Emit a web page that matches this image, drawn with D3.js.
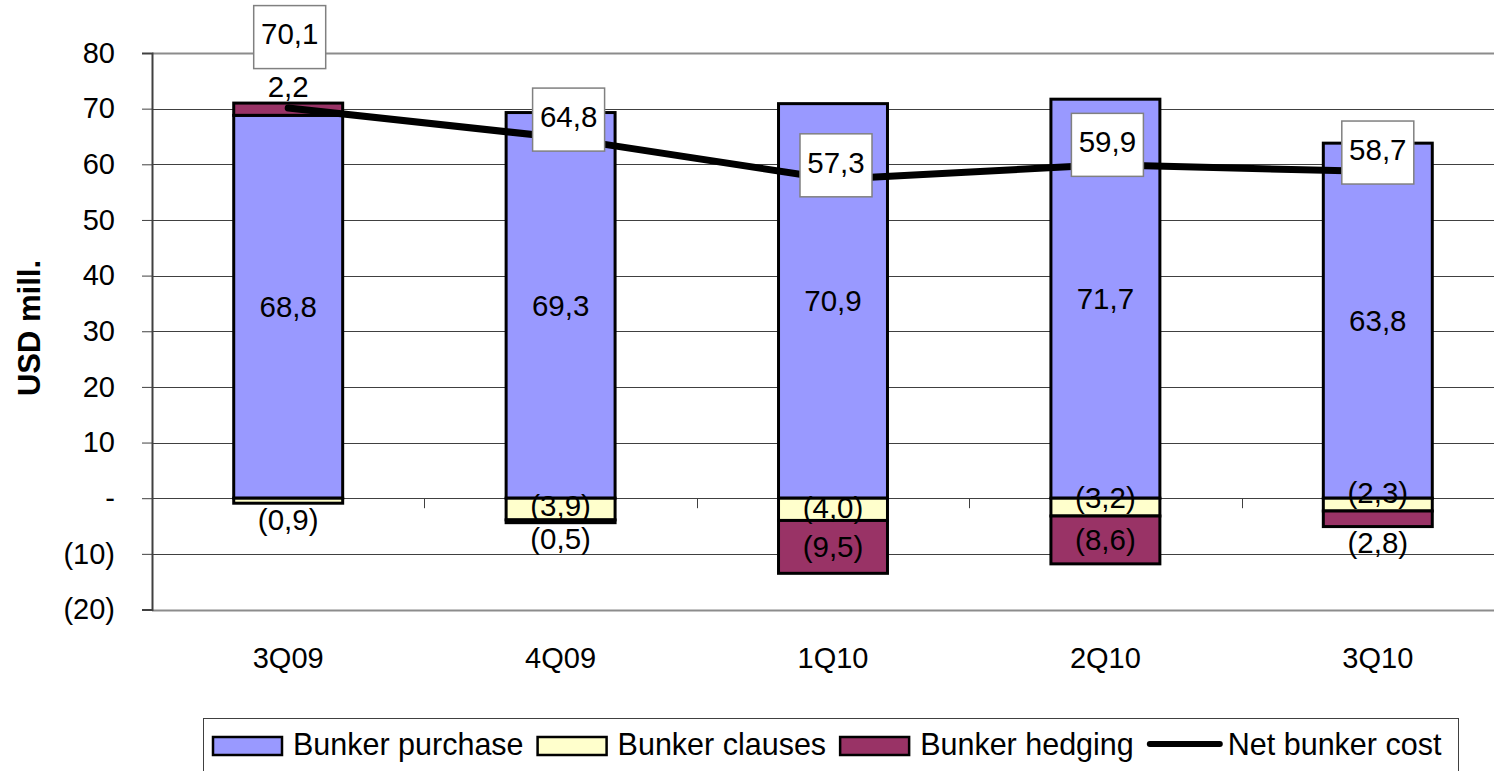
<!DOCTYPE html>
<html>
<head>
<meta charset="utf-8">
<script src="https://cdn.jsdelivr.net/npm/d3@7"></script>
<style>
  html, body { margin: 0; padding: 0; background: #fff; }
  svg { display: block; font-family: "Liberation Sans", Arial, sans-serif; }
</style>
</head>
<body>
<svg id="chart" width="1494" height="771"></svg>
<script>
// ---------------- DATA ----------------
const categories = ["3Q09", "4Q09", "1Q10", "2Q10", "3Q10"];
const bunkerPurchase = [68.8, 69.3, 70.9, 71.7, 63.8];
const bunkerClauses = [-0.9, -3.9, -4.0, -3.2, -2.3];
const bunkerHedging = [2.2, -0.5, -9.5, -8.6, -2.8];
const netBunkerCost = [70.1, 64.8, 57.3, 59.9, 58.7];
const yTickValues = [-20, -10, 0, 10, 20, 30, 40, 50, 60, 70, 80];
const seriesNames = ["Bunker purchase", "Bunker clauses", "Bunker hedging", "Net bunker cost"];
const yAxisTitle = "USD mill.";

// ---------------- STYLE / LAYOUT ----------------
const colors = { purchase: "#9999FF", clauses: "#FFFFCC", hedging: "#993366" };
const plot = { left: 152, right: 1514, top: 53, bottom: 609.5 };
// manual placement tweaks of the net-cost label boxes (px), like the original
const netLabelShift = [[1.5, -71], [8, -18], [3, -14], [2, -20], [0, -19]];
// manual vertical nudges of the clause labels (px)
const clauseLabelNudge = [0, -3, -2, -9, -12];
const labelFont = 29.5;

const fmt = v => {
  if (v === 0) return "-";
  const s = d3.format(".1f")(Math.abs(v)).replace(".", ",");
  return v < 0 ? "(" + s + ")" : s;
};
const fmtTick = v => {
  if (v === 0) return "-";
  return v < 0 ? "(" + Math.abs(v) + ")" : String(v);
};

const svg = d3.select("#chart");

const x = d3.scaleBand().domain(categories)
  .range([plot.left, plot.right]).paddingInner(0.6).paddingOuter(0.3);
const y = d3.scaleLinear().domain([-20, 80]).range([plot.bottom, plot.top]);

// gridlines
svg.append("g").selectAll("line").data(yTickValues).join("line")
  .attr("x1", plot.left).attr("x2", plot.right)
  .attr("y1", d => Math.round(y(d)) + 0.5).attr("y2", d => Math.round(y(d)) + 0.5)
  .attr("stroke", d => (d === 80 || d === -20) ? "#8c8c8c" : "#404040")
  .attr("stroke-width", d => (d === 80 || d === -20) ? 2 : 1);

// y axis
const yAxis = d3.axisLeft(y).tickValues(yTickValues).tickFormat(fmtTick).tickSize(10).tickPadding(27);
const gy = svg.append("g").attr("transform", `translate(${plot.left},0)`).call(yAxis);
gy.select(".domain").attr("stroke", "#404040").attr("stroke-width", 2);
gy.selectAll(".tick line").attr("stroke", "#404040");
gy.selectAll(".tick text").attr("font-size", 29).attr("fill", "#000")
  .attr("font-family", "Liberation Sans, Arial, sans-serif");

// x axis (tick marks at category boundaries on the zero line)
const step = x.step();
const bounds = categories.slice(0, -1).map(c => x(c) + x.bandwidth() + (step - x.bandwidth()) / 2);
svg.append("g").selectAll("line").data(bounds).join("line")
  .attr("x1", d => Math.round(d) + 0.5).attr("x2", d => Math.round(d) + 0.5)
  .attr("y1", y(0)).attr("y2", y(0) + 10)
  .attr("stroke", "#404040").attr("stroke-width", 1);

svg.append("g").selectAll("text").data(categories).join("text")
  .attr("x", d => x(d) + x.bandwidth() / 2)
  .attr("y", 668)
  .attr("text-anchor", "middle")
  .attr("font-size", 29)
  .text(d => d);

// y title
svg.append("text")
  .attr("transform", "translate(40,328) rotate(-90)")
  .attr("text-anchor", "middle")
  .attr("font-size", 31).attr("font-weight", "bold")
  .text(yAxisTitle);

// stacked bars
const rows = categories.map((c, i) => ({
  cat: c, purchase: bunkerPurchase[i], clauses: bunkerClauses[i], hedging: bunkerHedging[i]
}));
const keys = ["purchase", "clauses", "hedging"];
const stacked = d3.stack().keys(keys).offset(d3.stackOffsetDiverging)(rows);

const gBars = svg.append("g");
stacked.forEach(layer => {
  gBars.append("g").selectAll("rect").data(layer).join("rect")
    .attr("x", d => x(d.data.cat))
    .attr("width", x.bandwidth())
    .attr("y", d => y(Math.max(d[0], d[1])))
    .attr("height", d => Math.abs(y(d[0]) - y(d[1])))
    .attr("fill", colors[layer.key])
    .attr("stroke", "#000").attr("stroke-width", 3);
});

// segment labels
const gLab = svg.append("g");
stacked.forEach(layer => {
  layer.forEach((d, i) => {
    const v = d.data[layer.key];
    const lo = Math.min(d[0], d[1]), hi = Math.max(d[0], d[1]);
    const hPx = y(lo) - y(hi);
    const extremes = stacked.map(l => l[i]);
    const isOuter = v >= 0
      ? hi >= d3.max(extremes, e => Math.max(e[0], e[1]))
      : lo <= d3.min(extremes, e => Math.min(e[0], e[1]));
    let cy;
    if (hPx < 20 && isOuter) {
      cy = v >= 0 ? y(hi) - 16 : y(lo) + 16;
    } else {
      cy = (y(lo) + y(hi)) / 2;
    }
    if (layer.key === "clauses" && !(hPx < 20 && isOuter)) cy += clauseLabelNudge[i];
    gLab.append("text")
      .attr("x", x(d.data.cat) + x.bandwidth() / 2)
      .attr("y", cy)
      .attr("dy", "0.35em")
      .attr("text-anchor", "middle")
      .attr("font-size", labelFont)
      .text(fmt(v));
  });
});

// net line
const line = d3.line()
  .x((d, i) => x(categories[i]) + x.bandwidth() / 2)
  .y(d => y(d));
svg.append("path").datum(netBunkerCost)
  .attr("d", line)
  .attr("fill", "none").attr("stroke", "#000").attr("stroke-width", 7)
  .attr("stroke-linejoin", "round").attr("stroke-linecap", "round");

// net labels in boxes
const gNet = svg.append("g");
netBunkerCost.forEach((v, i) => {
  const cx = x(categories[i]) + x.bandwidth() / 2 + netLabelShift[i][0];
  const cy = y(v) + netLabelShift[i][1];
  gNet.append("rect")
    .attr("x", cx - 36).attr("y", cy - 31.5)
    .attr("width", 72).attr("height", 63)
    .attr("fill", "#fff").attr("stroke", "#808080").attr("stroke-width", 1.5);
  gNet.append("text")
    .attr("x", cx).attr("y", cy - 3).attr("dy", "0.35em")
    .attr("text-anchor", "middle").attr("font-size", labelFont)
    .text(fmt(v));
});

// legend
const gLeg = svg.append("g");
gLeg.append("rect")
  .attr("x", 203.5).attr("y", 718.5).attr("width", 1255).attr("height", 70)
  .attr("fill", "#fff").attr("stroke", "#404040").attr("stroke-width", 1);
let lx = 213;
const legendKinds = ["purchase", "clauses", "hedging", "line"];
legendKinds.forEach((k, i) => {
  if (k === "line") {
    gLeg.append("line").attr("x1", lx + 2).attr("x2", lx + 72)
      .attr("y1", 744).attr("y2", 744)
      .attr("stroke", "#000").attr("stroke-width", 6).attr("stroke-linecap", "round");
  } else {
    gLeg.append("rect").attr("x", lx).attr("y", 737).attr("width", 69).attr("height", 18)
      .attr("fill", colors[k]).attr("stroke", "#000").attr("stroke-width", 2.5);
  }
  const t = gLeg.append("text").attr("x", lx + 80).attr("y", 755)
    .attr("font-size", 30.5).text(seriesNames[i]);
  lx += 80 + t.node().getComputedTextLength() + 14;
});
</script>
</body>
</html>
